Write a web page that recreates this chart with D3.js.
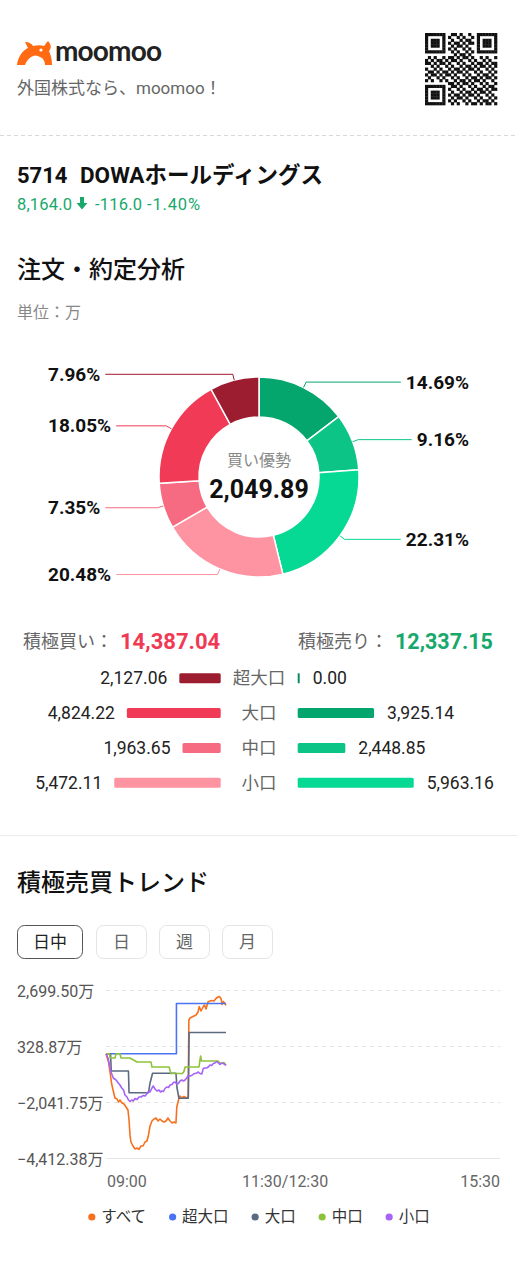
<!DOCTYPE html>
<html>
<head>
<meta charset="utf-8">
<style>
  body { margin: 0; background: #fff; overflow: hidden; }
  svg { display: block; font-family: Roboto, 'Noto Sans CJK JP', sans-serif; }
</style>
<script src="https://cdn.jsdelivr.net/npm/d3@7"></script>
</head>
<body>
<svg width="518" height="1280"></svg>
<script>
// ---------- data ----------
const stockCode = '5714';
const stockName = 'DOWAホールディングス';
const priceText = ['8,164.0', '-116.0', '-1.40%'];

const sizes = ['超大口', '大口', '中口', '小口'];
const buyVals = [2127.06, 4824.22, 1963.65, 5472.11];
const sellVals = [0.00, 3925.14, 2448.85, 5963.16];
const buyTotal = 14387.04;
const sellTotal = 12337.15;
const netBuy = 2049.89;

const buyColors = ['#9c1c30', '#f03a56', '#f66b81', '#fe93a1'];
const sellColors = ['#0a8a5e', '#04a66e', '#0cc486', '#06d993'];

const periods = ['日中', '日', '週', '月'];

const yTicks = [2699.50, 328.87, -2041.75, -4412.38];
const xTickMins = [0, 150, 330];
const xTickLabels = ['09:00', '11:30/12:30', '15:30'];

const trendNames = ['すべて', '超大口', '大口', '中口', '小口'];
const trendColors = ['#f7701e', '#4a74f5', '#5b6a80', '#8dc33b', '#a563f7'];

// [minutes since 09:00, value in 万]
const allSeries = [[0,0],[2.1,-348],[3.4,-772],[4.6,-1237],[5.9,-1534],[7.5,-1872],[9.2,-1915],[10.5,-2042],[11.7,-1957],[13.4,-2084],[15.1,-2126],[16.8,-2253],[18.4,-2380],[19.3,-2803],[20.1,-3438],[20.9,-3735],[22.6,-3904],[24.3,-4031],[26,-3989],[27.6,-4050],[29.3,-3904],[31,-3904],[32.7,-3735],[34.3,-3692],[35.6,-3438],[36.9,-3057],[38.5,-2846],[40.2,-2761],[41.9,-2719],[43.6,-2846],[45.2,-2761],[46.9,-2846],[48.6,-2888],[50.3,-2846],[51.9,-2719],[53.6,-2846],[55.3,-2930],[57,-2888],[58.6,-2930],[59.3,-2253],[60.7,-1957],[62,-1788],[63.7,-1872],[65.3,-1809],[67.4,-1872],[68.9,-1830],[69.4,1429],[70.4,1514],[72,1556],[73.7,1598],[75.4,1641],[77.1,1768],[78.1,2001],[79.6,1810],[81.3,1980],[82.5,2065],[83.8,1895],[85.4,2191],[87.1,2234],[88.8,2255],[90.5,2234],[92.1,2340],[93.8,2403],[95,2424],[96.5,2318],[97.2,2085],[98.3,2213],[100.5,2049.89]];
const superLargeSeries = [[0,0],[59,0],[59,2127.06],[100.5,2127.06]];
const largeSeries = [[0,0],[3.8,0],[4.4,-729],[18.8,-729],[19.3,-1648],[35.6,-1648],[36.9,-1237],[39,-826],[58.6,-826],[59.5,-1449],[61.1,-1885],[68.9,-1885],[69.6,899.08],[100.5,899.08]];
const mediumSeries = [[0,0],[3,0],[3.4,-180],[7.5,-180],[8.4,0],[11.7,0],[12.6,-180],[20,-180],[26,-350],[37.7,-350],[38.5,-560],[52.8,-560],[54.4,-835],[64,-835],[65.3,-750],[66.2,-560],[77.9,-560],[79.2,-95],[80,-306],[93.8,-306],[96.3,-412],[98.8,-370],[100.5,-485.2]];
const smallSeries = [[0,0],[1.7,-179],[2.9,-475],[4.2,-772],[6.1,-1026],[8.4,-1110],[10.3,-1237],[11.7,-1322],[13.2,-1449],[14.7,-1534],[15.9,-1745],[17.6,-1830],[18.8,-1957],[20.1,-2021],[21.5,-1957],[22.9,-1999],[24.3,-1893],[26,-1936],[27.6,-1830],[29.3,-1830],[31.2,-1767],[32.7,-1788],[34.1,-1703],[35.6,-1597],[36.9,-1618],[38.5,-1449],[39.6,-1364],[41,-1491],[42.7,-1576],[44.4,-1534],[45.6,-1618],[46.9,-1576],[48.2,-1597],[49.4,-1470],[50.8,-1407],[52.4,-1428],[53.6,-1322],[55.3,-1301],[56.5,-1216],[57.8,-1195],[59.2,-1280],[60.6,-1259],[62,-1153],[63.4,-1110],[64.9,-1153],[66.2,-1110],[67.6,-1026],[68.9,-920],[70.4,-941],[71.8,-920],[73.3,-856],[74.5,-835],[76,-814],[77.3,-772],[78.7,-835],[80.2,-856],[81.5,-623],[82.9,-602],[84.3,-602],[85.7,-560],[87.1,-475],[88.5,-496],[89.9,-412],[91.3,-391],[92.8,-327],[94.1,-391],[95.5,-454],[96.9,-391],[98.3,-412],[100.5,-491.05]];
const trendSeries = [allSeries, superLargeSeries, largeSeries, mediumSeries, smallSeries];

// ---------- page ----------
const svg = d3.select('svg');
const width = +svg.attr('width');
const fmt2 = d3.format(',.2f');

function txt(x, y, s, size, fill, opts = {}) {
  return svg.append('text')
    .attr('x', x).attr('y', y)
    .attr('dominant-baseline', opts.base || 'central')
    .attr('text-anchor', opts.anchor || 'start')
    .style('font-size', size + 'px')
    .style('font-weight', opts.weight || 400)
    .style('fill', fill)
    .text(s);
}

// header logo
svg.append('path')
  .attr('d', 'M17,65 C18,57 22,51 28,48 L25,42 C29,42 32,44 33,46 C37,45 41,45 44,46 L48,41 C51,44 52,48 49,51 C51,55 52,60 52,65 L45,65 C45,61 43,58 40,57 C37,55 34,55 31,57 C28,59 26,62 25,65 Z')
  .attr('fill', '#ff6a13');
svg.append('circle').attr('cx', 41).attr('cy', 50).attr('r', 1.6).attr('fill', '#fff');
txt(55, 61, 'moomoo', 28, '#222', { base: 'alphabetic', weight: 700 })
  .style('font-family', 'Lato, sans-serif').attr('textLength', 107);
txt(17, 88, '外国株式なら、moomoo！', 17, '#666');

// qr-like block (decoration)
const qr = svg.append('g').attr('transform', 'translate(425,33)');
const n = 25, cell = 72 / n;
function finder(i, j) {
  const di = i - (i >= 18 ? 18 : 0), dj = j - (j >= 18 ? 18 : 0);
  if (di > 6 || dj > 6) return null;
  if (di === 0 || di === 6 || dj === 0 || dj === 6) return 1;
  if (di >= 2 && di <= 4 && dj >= 2 && dj <= 4) return 1;
  return 0;
}
for (let i = 0; i < n; i++) {
  for (let j = 0; j < n; j++) {
    let on;
    const inF = (i < 8 && j < 8) || (i < 8 && j >= 17) || (i >= 17 && j < 8);
    if (inF) { const f = finder(i, j); on = f === null ? 0 : f; }
    else {
      const h = Math.imul((i * 374761393 + j * 668265263) | 0, 1274126177) >>> 0;
      on = ((h >>> 13) & 3) < 2 ? 1 : 0;
    }
    if (on) qr.append('rect').attr('x', j * cell).attr('y', i * cell)
      .attr('width', cell + 0.3).attr('height', cell + 0.3).attr('fill', '#111');
  }
}

// dashed separator
svg.append('line').attr('x1', 0).attr('x2', width).attr('y1', 135.5).attr('y2', 135.5)
  .attr('stroke', '#d8d8d8').attr('stroke-dasharray', '4,3');

// stock title
txt(17, 175, stockCode, 22, '#111', { weight: 700 });
txt(80, 175, stockName, 22.5, '#111', { weight: 700 });
const green = '#17a86b', red = '#f03a55';
txt(17, 204, priceText[0], 16.5, green).attr('textLength', 55);
svg.append('path').attr('d', 'M80,197 h4 v6 h3.5 l-5.5,6.5 l-5.5,-6.5 h3.5 z').attr('fill', green);
txt(95, 204, priceText[1], 16.5, green).attr('textLength', 47);
txt(147, 204, priceText[2], 16.5, green).attr('textLength', 53);

// section 1
txt(17, 270, '注文・約定分析', 24, '#111', { weight: 500 });
txt(17, 312, '単位：万', 16, '#888');

// ---------- donut ----------
const cx = 259, cy = 477, rOuter = 100, rInner = 60;
const pieData = sizes.map((s, i) => ({ size: s, value: sellVals[i], color: sellColors[i] }))
  .concat(sizes.map((s, i) => ({ size: s, value: buyVals[i], color: buyColors[i] })).reverse());
const grand = d3.sum(pieData, d => d.value);
const arcs = d3.pie().sort(null).value(d => d.value)(pieData);
const arc = d3.arc().innerRadius(rInner).outerRadius(rOuter);
svg.append('g').attr('transform', `translate(${cx},${cy})`)
  .selectAll('path').data(arcs).join('path')
    .attr('d', arc)
    .attr('fill', d => d.data.color)
    .attr('stroke', '#fff').attr('stroke-width', 1.5);

const lineGen = d3.line();
arcs.filter(a => a.data.value > 0).forEach(a => {
  const mid = (a.startAngle + a.endAngle) / 2;
  const right = Math.sin(mid) > 0;
  const q0 = [cx + Math.sin(mid) * rOuter, cy - Math.cos(mid) * rOuter];
  const q1 = [cx + Math.sin(mid) * (rOuter + 6), cy - Math.cos(mid) * (rOuter + 6)];
  const label = (a.data.value / grand * 100).toFixed(2) + '%';
  const t = txt(right ? 469 : 48, q1[1], label, 19, '#111', { weight: 700, anchor: right ? 'end' : 'start' });
  const w = t.node().getComputedTextLength();
  const xEnd = right ? 469 - w - 5 : 48 + w + 5;
  svg.append('path').attr('d', lineGen([q0, q1, [xEnd, q1[1]]]))
    .attr('fill', 'none').attr('stroke', a.data.color).attr('stroke-width', 1);
});
txt(cx, 460, '買い優勢', 16, '#888', { anchor: 'middle' });
txt(cx, 489, fmt2(netBuy), 25, '#111', { anchor: 'middle', weight: 700 });

// ---------- buy / sell bars ----------
txt(23, 641.5, '積極買い：', 18, '#666');
txt(120, 641.5, fmt2(buyTotal), 22, red, { weight: 700 });
txt(298, 641.5, '積極売り：', 18, '#666');
txt(395, 641.5, fmt2(sellTotal), 21.5, green, { weight: 700 });

const barX = d3.scaleLinear().domain([0, d3.max(buyVals.concat(sellVals))]).range([0, 116]);
const rowY = d3.scalePoint().domain(sizes).range([678.3, 782.7]);
const buyEdge = 220.7, sellEdge = 297.7, barH = 10;
sizes.forEach((s, i) => {
  const y = rowY(s);
  const bw = Math.max(2, barX(buyVals[i]));
  const sw = Math.max(2, barX(sellVals[i]));
  svg.append('rect').attr('x', buyEdge - bw).attr('y', y - barH / 2).attr('width', bw).attr('height', barH)
    .attr('rx', 1.5).attr('fill', buyColors[i]);
  svg.append('rect').attr('x', sellEdge).attr('y', y - barH / 2).attr('width', sw).attr('height', barH)
    .attr('rx', sw > 3 ? 1.5 : 0.5).attr('fill', sellColors[i]);
  txt(buyEdge - bw - 12, y, fmt2(buyVals[i]), 17.5, '#222', { anchor: 'end' });
  txt(sellEdge + sw + 13, y, fmt2(sellVals[i]), 17.5, '#222');
  txt(259, y, s, 17.5, '#666', { anchor: 'middle' });
});

svg.append('line').attr('x1', 0).attr('x2', width).attr('y1', 835.5).attr('y2', 835.5)
  .attr('stroke', '#ececec');

// ---------- trend ----------
txt(17, 883, '積極売買トレンド', 24, '#111', { weight: 500 });
const btnX = [17, 96, 159, 222], btnW = [66, 51, 51, 51];
periods.forEach((p, i) => {
  svg.append('rect').attr('x', btnX[i] + 0.5).attr('y', 925.5).attr('width', btnW[i] - 1).attr('height', 33)
    .attr('rx', 7).attr('fill', '#fff')
    .attr('stroke', i === 0 ? '#555' : '#e4e4e4').attr('stroke-width', 1);
  txt(btnX[i] + btnW[i] / 2, 942, p, 17, i === 0 ? '#222' : '#666', { anchor: 'middle' });
});

const tx = d3.scaleLinear().domain([0, 330]).range([106, 500]);
const ty = d3.scaleLinear().domain(d3.extent(yTicks)).range([1158, 990]);

yTicks.forEach((v, i) => {
  const y = Math.round(ty(v)) + 0.5;
  svg.append('line').attr('x1', tx(0)).attr('x2', tx(330)).attr('y1', y).attr('y2', y)
    .attr('stroke', i === yTicks.length - 1 ? '#e6e6e6' : '#e2e2e2')
    .attr('stroke-dasharray', i === yTicks.length - 1 ? null : '4,4');
  txt(17, y + 1, fmt2(v) + '万', 16, '#555');
});
xTickMins.forEach((m, i) => {
  txt(tx(m) + (i === 0 ? 1 : 0), 1181, xTickLabels[i], 16, '#666',
    { anchor: i === 0 ? 'start' : i === xTickMins.length - 1 ? 'end' : 'middle' });
});

const trendLine = d3.line().x(d => tx(d[0])).y(d => ty(d[1]));
trendSeries.forEach((s, i) => {
  svg.append('path').attr('d', trendLine(s))
    .attr('fill', 'none').attr('stroke', trendColors[i]).attr('stroke-width', 1.6)
    .attr('stroke-linejoin', 'round');
});

// legend
const legend = svg.append('g');
let lx = 0;
trendNames.forEach((name, i) => {
  legend.append('circle').attr('cx', lx + 3.5).attr('cy', 1217).attr('r', 3.6).attr('fill', trendColors[i]);
  const t = legend.append('text').attr('x', lx + 13).attr('y', 1217).attr('dominant-baseline', 'central')
    .style('font-size', '15.5px').style('fill', '#333').text(name);
  lx += 13 + t.node().getComputedTextLength() + 23;
});
lx -= 23;
legend.attr('transform', `translate(${259 - lx / 2},0)`);
</script>
</body>
</html>
